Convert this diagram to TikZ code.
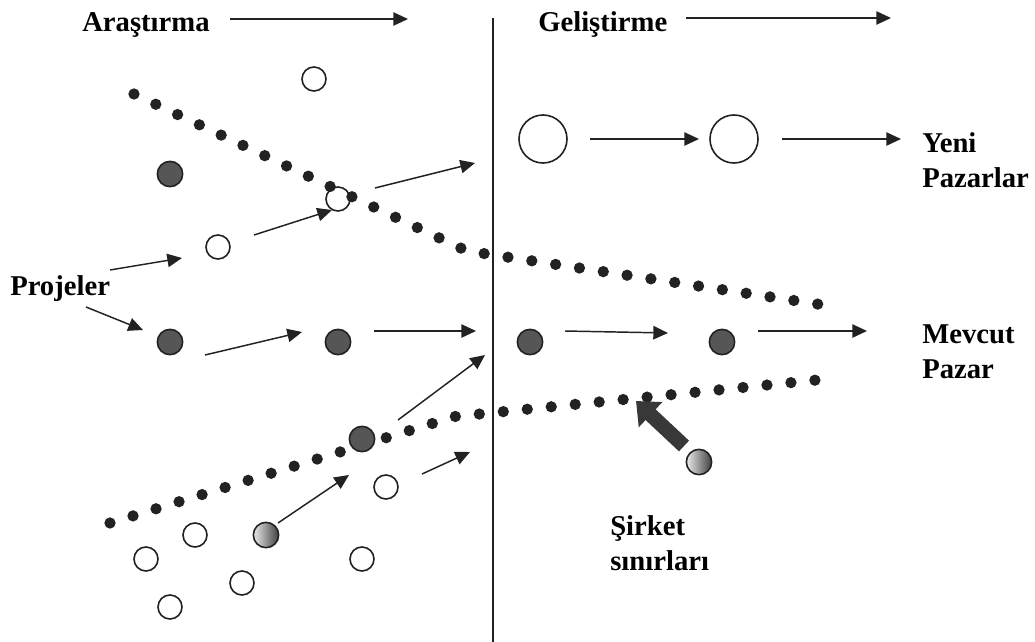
\documentclass[tikz,border=0pt]{standalone}
\usepackage{fontspec}
\setmainfont{Liberation Serif}
\usetikzlibrary{arrows.meta}
\definecolor{darkdot}{HTML}{565656}
\definecolor{ink}{HTML}{222222}

\begin{document}
\begin{tikzpicture}[x=0.75pt,y=-0.75pt,
  open/.style={draw=ink, circle, line width=1.2pt, minimum size=18pt, inner sep=0pt},
  big/.style={open, minimum size=36pt},
  dark/.style={open, fill=darkdot, minimum size=19pt},
  grad/.style={open, left color=black!8, right color=black!75, minimum size=19pt},
  arr/.style={draw=ink, line width=1.1pt, -{Triangle[length=11pt,width=10pt]}},
  fat/.style={draw=ink!90, line width=11pt, -{Triangle[length=15pt,width=25pt]}},
  lbl/.style={font=\fontsize{21.5}{26}\selectfont\bfseries, inner sep=0pt, align=left},
  border/.style={draw=ink, line width=8.5pt, line cap=round, dash pattern=on 0pt off 18.07pt}]
\useasboundingbox (0,0) rectangle (1035,642);

\node[lbl, anchor=base west] (ar) at (82,32) {Araştırma};
\node[lbl, anchor=base west] (ge) at (538,32) {Geliştirme};
\node[lbl, anchor=base west] (pr) at (10,295) {Projeler};
\node[lbl, anchor=base west] (ye) at (922,187) {Yeni\\Pazarlar};
\node[lbl, anchor=base west] (me) at (922,378) {Mevcut\\Pazar};
\node[lbl, anchor=base west] (si) at (610,570) {Şirket\\sınırları};

\coordinate (top) at (493,18);
\coordinate (bot) at (493,642);
\draw[draw=ink, line width=1.1pt] (top) -- (bot);

\coordinate (u1) at (134,94);
\coordinate (u2) at (467,251);
\coordinate (u3) at (819,304.3);
\coordinate (l1) at (110,523);
\coordinate (l2) at (455,416.5);
\coordinate (l3) at (818,379.9);

\node[open] (o1) at (314,79) {};
\node[open] (o2) at (338,199) {};
\node[open] (o3) at (218,247) {};
\node[open] (o4) at (386,487) {};
\node[open] (o5) at (195,535) {};
\node[open] (o6) at (146,559) {};
\node[open] (o7) at (362,559) {};
\node[open] (o8) at (242,583) {};
\node[open] (o9) at (170,607) {};
\node[big] (b1) at (543,139) {};
\node[big] (b2) at (734,139) {};

\draw[border] (u1) -- (u2) -- (u3);
\draw[border] (l1) -- (l2) -- (l3);

\node[dark] (d0) at (170,174) {};
\node[dark] (d1) at (170,342) {};
\node[dark] (d2) at (338,342) {};
\node[dark] (d3) at (530,342) {};
\node[dark] (d4) at (722,342) {};
\node[dark] (d5) at (362,439) {};
\node[grad] (g1) at (266,535) {};
\node[grad] (g2) at (699,462) {};

\coordinate (ara) at (230,19);  \coordinate (arb) at (408,19);
\coordinate (gea) at (686,18);  \coordinate (geb) at (891,18);
\coordinate (p1a) at (110,270); \coordinate (p1b) at (182,258);
\coordinate (p2a) at (86,307);  \coordinate (p2b) at (143,330);
\coordinate (o3a) at (254,235); \coordinate (o3b) at (332,210);
\coordinate (o2a) at (375,188); \coordinate (o2b) at (475,163);
\coordinate (d1a) at (205,355); \coordinate (d1b) at (302,332);
\coordinate (d2a) at (374,331); \coordinate (d2b) at (476,331);
\coordinate (d3a) at (565,331); \coordinate (d3b) at (668,333);
\coordinate (d4a) at (758,331); \coordinate (d4b) at (867,331);
\coordinate (b1a) at (590,139); \coordinate (b1b) at (699,139);
\coordinate (b2a) at (782,139); \coordinate (b2b) at (901,139);
\coordinate (d5a) at (398,420); \coordinate (d5b) at (485,355);
\coordinate (o4a) at (422,474); \coordinate (o4b) at (470,452);
\coordinate (g1a) at (278,523); \coordinate (g1b) at (349,475);
\coordinate (g2a) at (684,446); \coordinate (g2b) at (636,401);

\draw[arr] (ara) -- (arb);
\draw[arr] (gea) -- (geb);
\draw[arr] (p1a) -- (p1b);
\draw[arr] (p2a) -- (p2b);
\draw[arr] (o3a) -- (o3b);
\draw[arr] (o2a) -- (o2b);
\draw[arr] (d1a) -- (d1b);
\draw[arr] (d2a) -- (d2b);
\draw[arr] (d3a) -- (d3b);
\draw[arr] (d4a) -- (d4b);
\draw[arr] (b1a) -- (b1b);
\draw[arr] (b2a) -- (b2b);
\draw[arr] (d5a) -- (d5b);
\draw[arr] (o4a) -- (o4b);
\draw[arr] (g1a) -- (g1b);
\draw[fat] (g2a) -- (g2b);
\end{tikzpicture}
\end{document}
